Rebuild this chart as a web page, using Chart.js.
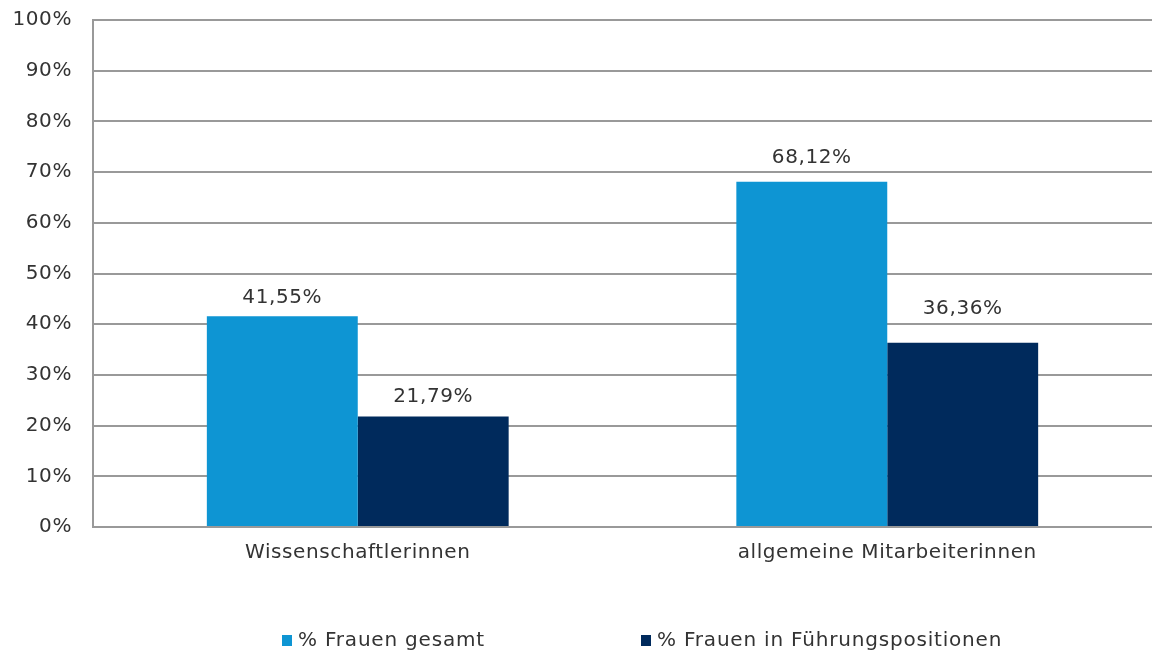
<!DOCTYPE html>
<html>
<head>
<meta charset="utf-8">
<script src="https://cdn.jsdelivr.net/npm/chart.js@4/dist/chart.umd.min.js"></script>
<style>
    html, body { margin: 0; padding: 0; background: #ffffff; }
    #wrap { width: 1152px; height: 655px; position: relative; }
</style>
</head>
<body>
<div id="wrap"><canvas id="frauenChart"></canvas></div>
<script>
// Groups and series
const categories = ['Wissenschaftlerinnen', 'allgemeine Mitarbeiterinnen'];
const seriesNames = ['% Frauen gesamt', '% Frauen in Führungspositionen'];
const frauenGesamt = [41.55, 68.12];
const frauenFuehrung = [21.79, 36.36];
const yTicks = [0, 10, 20, 30, 40, 50, 60, 70, 80, 90, 100];

const colors = ['#0e95d3', '#002a5c'];
const textColor = '#333333';
const gridColor = '#999999';
const fontFamily = '"DejaVu Sans", Verdana, sans-serif';

// gap between bar top and its value label, per dataset / category
const labelGaps = [[19, 23.5], [20, 33.5]];

Chart.defaults.font.family = fontFamily;
Chart.defaults.color = textColor;

function fmtPercent(v) {
    return v.toFixed(2).replace('.', ',') + '%';
}

// Slightly wider text, closer to Verdana
const letterSpacingPlugin = {
    id: 'letterSpacing',
    beforeUpdate(chart) { chart.ctx.letterSpacing = '0.6px'; },
    beforeDraw(chart) { chart.ctx.letterSpacing = '0.6px'; }
};

// Value labels above each bar
const barValuePlugin = {
    id: 'barValues',
    afterDatasetsDraw(chart) {
        const { ctx } = chart;
        ctx.save();
        ctx.font = '20px ' + fontFamily;
        ctx.fillStyle = textColor;
        ctx.textAlign = 'center';
        ctx.textBaseline = 'middle';
        chart.data.datasets.forEach((ds, i) => {
            chart.getDatasetMeta(i).data.forEach((bar, j) => {
                ctx.fillText(fmtPercent(ds.data[j]), bar.x, bar.y - labelGaps[i][j]);
            });
        });
        ctx.restore();
    }
};

// Legend row under the axis
const bottomLegendPlugin = {
    id: 'bottomLegend',
    afterDraw(chart) {
        const { ctx } = chart;
        const starts = [282, 641];
        const y = 641;
        ctx.save();
        ctx.font = '20px ' + fontFamily;
        ctx.letterSpacing = '0.8px';
        ctx.textBaseline = 'middle';
        ctx.textAlign = 'left';
        chart.data.datasets.forEach((ds, i) => {
            ctx.fillStyle = ds.backgroundColor;
            ctx.fillRect(starts[i], y - 6, 10, 11);
            ctx.fillStyle = textColor;
            ctx.fillText(ds.label, starts[i] + 16, y);
        });
        ctx.restore();
    }
};

const chart = new Chart(document.getElementById('frauenChart'), {
    type: 'bar',
    data: {
        labels: categories,
        datasets: [
            {
                label: seriesNames[0],
                data: frauenGesamt,
                backgroundColor: colors[0],
                barPercentage: 1,
                categoryPercentage: 0.57
            },
            {
                label: seriesNames[1],
                data: frauenFuehrung,
                backgroundColor: colors[1],
                barPercentage: 1,
                categoryPercentage: 0.57
            }
        ]
    },
    options: {
        responsive: true,
        maintainAspectRatio: false,
        animation: false,
        layout: {
            padding: { top: 20, right: 0, bottom: 88, left: 0 }
        },
        plugins: {
            legend: { display: false },
            tooltip: { enabled: false }
        },
        scales: {
            x: {
                grid: { display: false, drawTicks: false },
                border: { display: true, color: gridColor, width: 2 },
                ticks: { font: { size: 20 }, color: textColor, padding: 14 },
                afterFit(scale) {
                    scale.height = 40;
                    scale.paddingLeft = 0;
                    scale.paddingRight = 0;
                }
            },
            y: {
                min: 0,
                max: 100,
                afterBuildTicks(scale) {
                    scale.ticks = yTicks.map(v => ({ value: v }));
                },
                grid: { color: gridColor, lineWidth: 2, drawTicks: false },
                border: { display: true, color: gridColor, width: 2 },
                ticks: {
                    font: { size: 20 },
                    color: textColor,
                    padding: 21,
                    callback: v => v + '%'
                },
                afterFit(scale) {
                    scale.width = 93;
                    scale.paddingTop = 0;
                    scale.paddingBottom = 0;
                }
            }
        }
    },
    plugins: [letterSpacingPlugin, barValuePlugin, bottomLegendPlugin]
});
</script>
</body>
</html>
